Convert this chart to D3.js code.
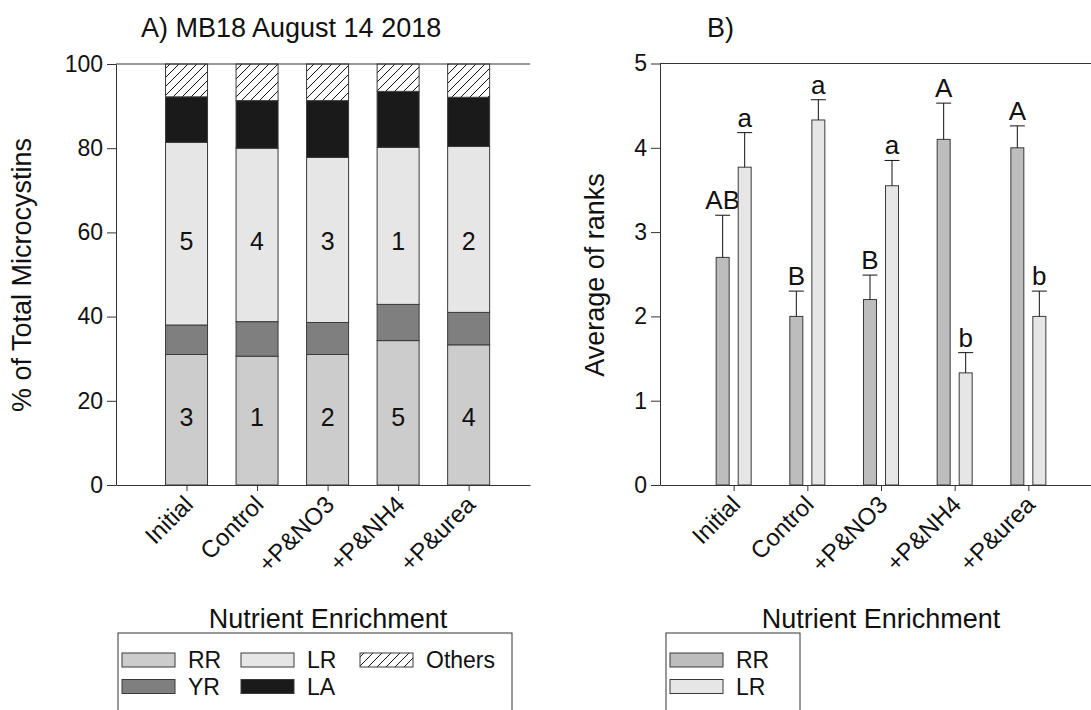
<!DOCTYPE html>
<html>
<head>
<meta charset="utf-8">
<script src="https://cdn.jsdelivr.net/npm/d3@7"></script>
<style>
    body { margin: 0; background: #fff; }
    svg { display: block; font-family: "Liberation Sans", Arial, sans-serif; }
    .axis path, .axis line { stroke: #333; }
    .axis text { font-size: 23px; fill: #111; font-family: "Liberation Sans", Arial, sans-serif; }
</style>
</head>
<body>
<svg id="chart" width="1091" height="710"></svg>
<script>
(function () {
    'use strict';

    // treatments on the x axis (both panels)
    var treatments = ['Initial', 'Control', '+P&NO3', '+P&NH4', '+P&urea'];

    // panel A -- % of total microcystins, stacked bottom to top
    var congeners = ['RR', 'YR', 'LR', 'LA', 'Others'];
    var pctRR = [31.0, 30.6, 31.0, 34.3, 33.3];
    var pctYR = [7.0, 8.2, 7.6, 8.6, 7.7];
    var pctLR = [43.4, 41.2, 39.2, 37.3, 39.4];
    var pctLA = [10.8, 11.3, 13.5, 13.3, 11.7];
    var pctOthers = [7.8, 8.7, 8.7, 6.5, 7.9];
    var rankRR = ['3', '1', '2', '5', '4'];
    var rankLR = ['5', '4', '3', '1', '2'];
    var ticksA = [0, 20, 40, 60, 80, 100];

    // panel B -- average of ranks (mean + SE)
    var meanRR = [2.7, 2.0, 2.2, 4.1, 4.0];
    var seRR = [0.5, 0.3, 0.29, 0.43, 0.26];
    var meanLR = [3.77, 4.33, 3.55, 1.33, 2.0];
    var seLR = [0.41, 0.24, 0.3, 0.24, 0.3];
    var letterRR = ['AB', 'B', 'B', 'A', 'A'];
    var letterLR = ['a', 'a', 'a', 'b', 'b'];
    var ticksB = [0, 1, 2, 3, 4, 5];

    // colours
    var fillA = { RR: '#cccccc', YR: '#7f7f7f', LR: '#e6e6e6', LA: '#1a1a1a', Others: 'url(#hatch)' };
    var fillB = { RR: '#bdbdbd', LR: '#e6e6e6' };
    var edge = '#3a3a3a';

    var svg = d3.select('#chart');

    // diagonal hatch for "Others"
    var pat = svg.append('defs').append('pattern')
        .attr('id', 'hatch')
        .attr('patternUnits', 'userSpaceOnUse')
        .attr('width', 9).attr('height', 9);
    pat.append('rect').attr('width', 9).attr('height', 9).attr('fill', '#fff');
    pat.append('path')
        .attr('d', 'M0,9 L9,0 M-2,2 L2,-2 M7,11 L11,7')
        .attr('stroke', '#111').attr('stroke-width', 1);

    function addText(x, y, str, size, anchor) {
        return svg.append('text')
            .attr('x', x).attr('y', y)
            .attr('font-size', size)
            .attr('fill', '#111')
            .attr('text-anchor', anchor || 'middle')
            .text(str);
    }

    // shared axis frame: left axis, bottom axis, top line
    function drawFrame(x, y, ticks) {
        var xr = x.range(), yr = y.range();

        svg.append('g').attr('class', 'axis')
            .attr('transform', 'translate(0,' + yr[0] + ')')
            .call(d3.axisBottom(x).tickValues([1, 2, 3, 4, 5])
                .tickSize(6).tickSizeOuter(0).tickFormat(''));

        svg.append('g').attr('class', 'axis')
            .attr('transform', 'translate(' + xr[0] + ',0)')
            .call(d3.axisLeft(y).tickValues(ticks)
                .tickSize(9).tickSizeOuter(0).tickPadding(4)
                .tickFormat(d3.format('d')));

        svg.append('line')
            .attr('x1', xr[0]).attr('x2', xr[1])
            .attr('y1', yr[1]).attr('y2', yr[1])
            .attr('stroke', '#333');

        // rotated treatment labels
        treatments.forEach(function (t, i) {
            svg.append('text')
                .attr('transform', 'translate(' + (x(i + 1) + 8) + ',' + (yr[0] + 21) + ') rotate(-45)')
                .attr('text-anchor', 'end')
                .attr('font-size', 24)
                .attr('fill', '#111')
                .text(t);
        });
    }

    // ---- panel A ----
    var xA = d3.scaleLinear().domain([0, 5.87]).range([116, 530]),
        yA = d3.scaleLinear().domain([0, 100]).range([485, 64]),
        seriesA = [pctRR, pctYR, pctLR, pctLA, pctOthers],
        barW = 42;

    treatments.forEach(function (t, i) {
        var base = 0;
        congeners.forEach(function (c, k) {
            var v = seriesA[k][i];
            svg.append('rect')
                .attr('x', xA(i + 1) - barW / 2)
                .attr('y', yA(base + v))
                .attr('width', barW)
                .attr('height', yA(base) - yA(base + v))
                .attr('fill', fillA[c])
                .attr('stroke', edge)
                .attr('stroke-width', 1);
            base += v;
        });
        addText(xA(i + 1), yA(58), rankLR[i], 25).attr('dy', '0.35em');
        addText(xA(i + 1), yA(16), rankRR[i], 25).attr('dy', '0.35em');
    });

    drawFrame(xA, yA, ticksA);

    addText(141, 37, 'A) MB18 August 14 2018', 27, 'start');
    svg.append('text')
        .attr('transform', 'translate(31,275) rotate(-90)')
        .attr('text-anchor', 'middle')
        .attr('font-size', 27)
        .attr('fill', '#111')
        .text('% of Total Microcystins');
    addText(328, 628, 'Nutrient Enrichment', 27);

    // ---- panel B ----
    var xB = d3.scaleLinear().domain([0, 6]).range([660, 1102]),
        yB = d3.scaleLinear().domain([0, 5]).range([485, 63.5]),
        sub = d3.scaleBand().domain(['RR', 'LR']).range([-17.5, 17.5]).paddingInner(0.41),
        groupsB = [
            { key: 'RR', mean: meanRR, se: seRR, letters: letterRR },
            { key: 'LR', mean: meanLR, se: seLR, letters: letterLR }
        ];

    groupsB.forEach(function (g) {
        treatments.forEach(function (t, i) {
            var x0 = xB(i + 1) + sub(g.key),
                cx = x0 + sub.bandwidth() / 2,
                top = yB(g.mean[i] + g.se[i]);

            svg.append('rect')
                .attr('x', x0).attr('y', yB(g.mean[i]))
                .attr('width', sub.bandwidth())
                .attr('height', yB(0) - yB(g.mean[i]))
                .attr('fill', fillB[g.key])
                .attr('stroke', edge).attr('stroke-width', 1);

            svg.append('line')
                .attr('x1', cx).attr('x2', cx)
                .attr('y1', yB(g.mean[i])).attr('y2', top)
                .attr('stroke', '#111');
            svg.append('line')
                .attr('x1', cx - 7.5).attr('x2', cx + 7.5)
                .attr('y1', top).attr('y2', top)
                .attr('stroke', '#111');

            addText(cx, top - 6, g.letters[i], 26);
        });
    });

    drawFrame(xB, yB, ticksB);

    addText(707, 37, 'B)', 27, 'start');
    svg.append('text')
        .attr('transform', 'translate(604,275) rotate(-90)')
        .attr('text-anchor', 'middle')
        .attr('font-size', 27)
        .attr('fill', '#111')
        .text('Average of ranks');
    addText(881, 628, 'Nutrient Enrichment', 27);

    // ---- legends ----
    function legend(x, y, w, items, fills, cols) {
        svg.append('rect')
            .attr('x', x).attr('y', y)
            .attr('width', w).attr('height', 100)
            .attr('fill', '#fff').attr('stroke', '#333');
        items.forEach(function (name, k) {
            var col = k % cols, row = Math.floor(k / cols),
                sx = x + 4 + col * 119, sy = y + 20 + row * 26.5;
            svg.append('rect')
                .attr('x', sx).attr('y', sy)
                .attr('width', 53).attr('height', 14)
                .attr('fill', fills[name])
                .attr('stroke', edge);
            addText(sx + 66, sy + 15, name, 23, 'start');
        });
    }

    legend(118, 633, 394, ['RR', 'LR', 'Others', 'YR', 'LA'], fillA, 3);
    legend(666, 633, 134, ['RR', 'LR'], fillB, 1);
}());
</script>
</body>
</html>
